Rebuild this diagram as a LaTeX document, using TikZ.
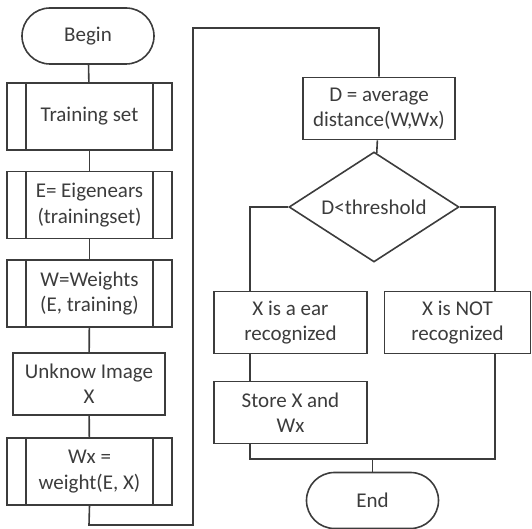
\documentclass[tikz,border=0pt]{standalone}
\usepackage{fontspec}
\setmainfont{Carlito}
\usetikzlibrary{shapes.geometric,shapes.misc}
\definecolor{inkgray}{HTML}{3C3C3C}

\begin{document}
\begin{tikzpicture}[x=0.5pt, y=-0.5pt, line width=0.8pt, draw=inkgray,
	every node/.style={font=\fontsize{10.5}{12.6}\selectfont, text=inkgray, align=center, inner sep=1pt},
	proc/.style={draw=inkgray, minimum width=76pt, minimum height=31pt},
	subproc/.style={draw=inkgray, minimum width=82.5pt, minimum height=33.5pt,
		path picture={\draw[inkgray, line width=0.8pt]
			([xshift=9.5pt]path picture bounding box.north west) -- ([xshift=9.5pt]path picture bounding box.south west)
			([xshift=-9.5pt]path picture bounding box.north east) -- ([xshift=-9.5pt]path picture bounding box.south east);}},
	term/.style={draw=inkgray, rounded rectangle, minimum width=68pt, minimum height=28pt},
	decide/.style={draw=inkgray, diamond, aspect=1.6, inner sep=0pt, minimum width=85pt, minimum height=55pt}]
	\useasboundingbox (0,0) rectangle (532,529);
	% left column
	\node[term] (begin) at (88,36) {Begin};
	\node[subproc] (train) at (89.5,116.5) {Training set};
	\node[subproc] (eigen) at (89.5,205) {E= Eigenears\\(trainingset)};
	\node[subproc] (weights) at (89.5,293.5) {W=Weights\\(E, training)};
	\node[proc] (unknow) at (89,384) {Unknow Image\\X};
	\node[subproc] (wx) at (89.5,471.5) {Wx =\\weight(E, X)};
	% right column
	\node[proc] (dist) at (379,108.5) {D = average\\distance(W,Wx)};
	\node[decide] (dec) at (374,207) {D<threshold};
	\node[proc, minimum width=76.5pt] (ear) at (290.5,322.5) {X is a ear\\recognized};
	\node[proc, minimum width=73pt] (notrec) at (457.5,322.5) {X is NOT\\recognized};
	\node[proc, minimum width=76.5pt] (store) at (290.5,412.5) {Store X and\\Wx};
	\node[term] (end) at (372.5,500.5) {End};
	% corners
	\coordinate (lowL) at (89,525);
	\coordinate (lowR) at (193,525);
	\coordinate (topL) at (193,28);
	\coordinate (topR) at (379,28);
	\coordinate (yesC) at (250,207);
	\coordinate (noC) at (495,207);
	\coordinate (joinL) at (250,459);
	\coordinate (joinR) at (495,459);
	\coordinate (joinM) at (372.5,459);
	% connectors
	\draw (begin) -- (train);
	\draw (train) -- (eigen);
	\draw (eigen) -- (weights);
	\draw (weights) -- (unknow);
	\draw (unknow) -- (wx);
	\draw (wx.south) -- (lowL) -- (lowR) -- (topL) -- (topR) -- (dist.north);
	\draw (dist) -- (dec);
	\draw (dec.west) -- (yesC) -- (yesC |- ear.north);
	\draw (dec.east) -- (noC) -- (noC |- notrec.north);
	\draw (yesC |- ear.south) -- (yesC |- store.north);
	\draw (yesC |- store.south) -- (joinL) -- (joinR) -- (noC |- notrec.south);
	\draw (joinM) -- (end.north);
\end{tikzpicture}
\end{document}
